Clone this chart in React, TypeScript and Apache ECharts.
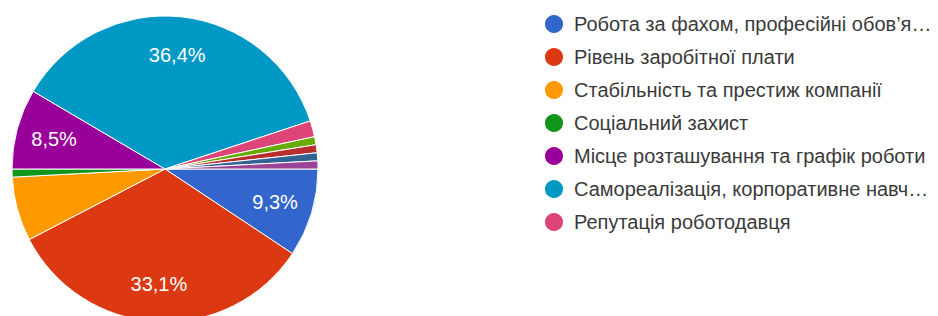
import React, { useEffect, useRef } from "react";
import * as echarts from "echarts";

const categories = [
  "Робота за фахом, професійні обов’я…",
  "Рівень заробітної плати",
  "Стабільність та престиж компанії",
  "Соціальний захист",
  "Місце розташування та графік роботи",
  "Самореалізація, корпоративне навч…",
  "Репутація роботодавця",
  "Інше 1",
  "Інше 2",
  "Інше 3",
  "Інше 4",
];
const counts = [11, 39, 8, 1, 10, 43, 2, 1, 1, 1, 1];
const colors = [
  "#3366cc",
  "#dc3912",
  "#ff9900",
  "#109618",
  "#990099",
  "#0099c6",
  "#dd4477",
  "#66aa00",
  "#b82e2e",
  "#316395",
  "#994499",
];
const legendNames = categories.slice(0, 7);
const labeledMinPercent = 8;

export default function App() {
  const ref = useRef<HTMLDivElement>(null);
  useEffect(() => {
    if (!ref.current) return;
    const chart = echarts.init(ref.current, null, { renderer: "svg" });
    const total = counts.reduce((a, b) => a + b, 0);
    const pct = (v: number) => (v / total) * 100;
    const baseData = categories.map((name, i) => ({
      name,
      value: counts[i],
      itemStyle: { color: colors[i] },
    }));
    const labelData = categories.map((name, i) => ({
      name,
      value: counts[i],
      itemStyle: { color: "rgba(0,0,0,0)", borderWidth: 0 },
      label: { show: pct(counts[i]) >= labeledMinPercent },
    }));
    chart.setOption({
      animation: false,
      color: colors,
      legend: {
        orient: "vertical",
        left: 538,
        top: 8,
        data: legendNames,
        icon: "circle",
        itemWidth: 20,
        itemHeight: 20,
        itemGap: 11,
        selectedMode: false,
        textStyle: {
          fontFamily: "'Liberation Sans', Arial, sans-serif",
          fontSize: 20,
          lineHeight: 20,
          color: "#3a3a3a",
          padding: [0, 0, 0, 5],
        },
      },
      series: [
        {
          type: "pie",
          center: [165, 169],
          radius: 153,
          startAngle: 0,
          clockwise: true,
          silent: true,
          label: { show: false },
          labelLine: { show: false },
          itemStyle: { borderColor: "#ffffff", borderWidth: 1 },
          data: baseData,
        },
        {
          type: "pie",
          center: [165, 169],
          radius: [71, 153],
          startAngle: 0,
          clockwise: true,
          silent: true,
          avoidLabelOverlap: false,
          labelLine: { show: false },
          label: {
            position: "inside",
            color: "#ffffff",
            fontSize: 20,
            fontFamily: "'Liberation Sans', Arial, sans-serif",
            formatter: (p: any) => pct(p.value).toFixed(1).replace(".", ",") + "%",
          },
          data: labelData,
        },
      ],
    });
    return () => chart.dispose();
  }, []);
  return (
    <div
      ref={ref}
      style={{ position: "fixed", left: 0, top: 0, width: 938, height: 316, background: "#ffffff" }}
    />
  );
}
